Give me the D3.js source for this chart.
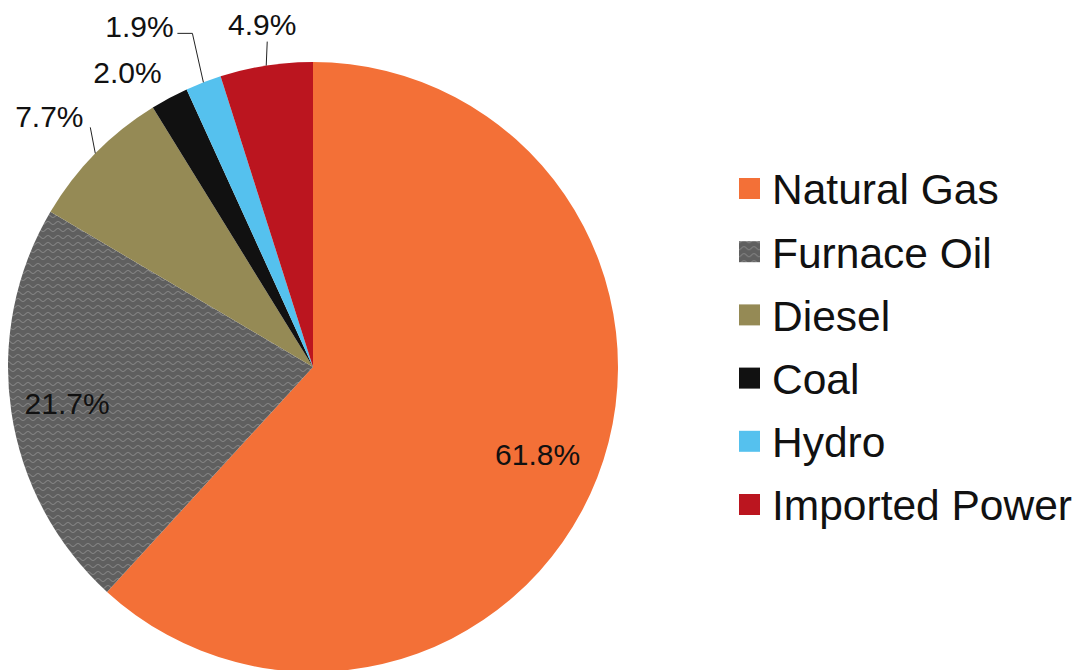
<!DOCTYPE html>
<html>
<head>
<meta charset="utf-8">
<script src="https://cdn.jsdelivr.net/npm/d3@7"></script>
<style>
  html, body { margin: 0; padding: 0; background: #fff; }
  svg { display: block; font-family: "Liberation Sans", Arial, sans-serif; }
</style>
</head>
<body>
<svg id="chart" width="1075" height="670"></svg>
<script>
// ---- data ----
const categories = ["Natural Gas", "Furnace Oil", "Diesel", "Coal", "Hydro", "Imported Power"];
const shares = [61.8, 21.7, 7.7, 2.0, 1.9, 4.9];
const labels = ["61.8%", "21.7%", "7.7%", "2.0%", "1.9%", "4.9%"];
const colors = ["#f37037", "url(#furnacePattern)", "#958a55", "#111111", "#55c1ee", "#bb151f"];

// ---- layout ----
const svg = d3.select("#chart");
const cx = 313, cy = 367, R = 305;

const defs = svg.append("defs");
const pat = defs.append("pattern")
  .attr("id", "furnacePattern")
  .attr("patternUnits", "userSpaceOnUse")
  .attr("width", 10).attr("height", 7);
pat.append("rect").attr("width", 10).attr("height", 7).attr("fill", "#5f5f5f");
pat.append("path")
  .attr("d", "M0,4.5 C2.5,4.5 2.5,1.5 5,1.5 C7.5,1.5 7.5,4.5 10,4.5")
  .attr("fill", "none").attr("stroke", "#868686").attr("stroke-width", 1.1);

const pie = d3.pie().sort(null).value(d => d);
const arcs = pie(shares);
const arc = d3.arc().innerRadius(0).outerRadius(R);

const g = svg.append("g").attr("transform", `translate(${cx},${cy})`);
g.selectAll("path.slice")
  .data(arcs)
  .join("path")
  .attr("class", "slice")
  .attr("d", arc)
  .attr("fill", (d, i) => colors[i]);

// label placement
const mid = d => (d.startAngle + d.endAngle) / 2;
const pt = (a, r) => [r * Math.sin(a), -r * Math.cos(a)];

const labelCfg = [
  { inside: true, rf: 0.79 },
  { inside: true, rf: 0.815 },
  { inside: false, dx: -46, dy: -26, leader: [[-5, -26]] },
  { inside: false, dx: -42, dy: -15, leader: null },
  { inside: false, dx: -64, dy: -45, leader: [[-11, -49], [-26, -49]] },
  { inside: false, dx: -4, dy: -31, leader: [[1, -24]] }
];

const lblG = g.append("g").attr("font-size", 30).attr("fill", "#111");
arcs.forEach((d, i) => {
  const c = labelCfg[i];
  const a = mid(d);
  if (c.inside) {
    const [x, y] = pt(a, R * c.rf);
    lblG.append("text")
      .attr("x", x).attr("y", y)
      .attr("text-anchor", "middle")
      .attr("dy", "0.36em")
      .text(labels[i]);
  } else {
    const [ox, oy] = pt(a, R);
    if (c.leader) {
      const pts = [[ox, oy]].concat(c.leader.map(p => [ox + p[0], oy + p[1]]));
      lblG.append("path")
        .attr("d", d3.line()(pts))
        .attr("fill", "none")
        .attr("stroke", "#222")
        .attr("stroke-width", 1);
    }
    lblG.append("text")
      .attr("x", ox + c.dx).attr("y", oy + c.dy)
      .attr("text-anchor", "middle")
      .text(labels[i]);
  }
});

// legend
const legend = svg.append("g").attr("transform", "translate(739,189)");
const rowStep = 63.2;
const items = legend.selectAll("g.item")
  .data(categories)
  .join("g")
  .attr("class", "item")
  .attr("transform", (d, i) => `translate(0,${i * rowStep})`);
items.append("rect")
  .attr("x", 0).attr("y", -11)
  .attr("width", 21).attr("height", 21)
  .attr("fill", (d, i) => colors[i]);
items.append("text")
  .attr("x", 33).attr("y", 0)
  .attr("dy", "0.36em")
  .attr("font-size", 42.5)
  .attr("fill", "#111")
  .text(d => d);
</script>
</body>
</html>
